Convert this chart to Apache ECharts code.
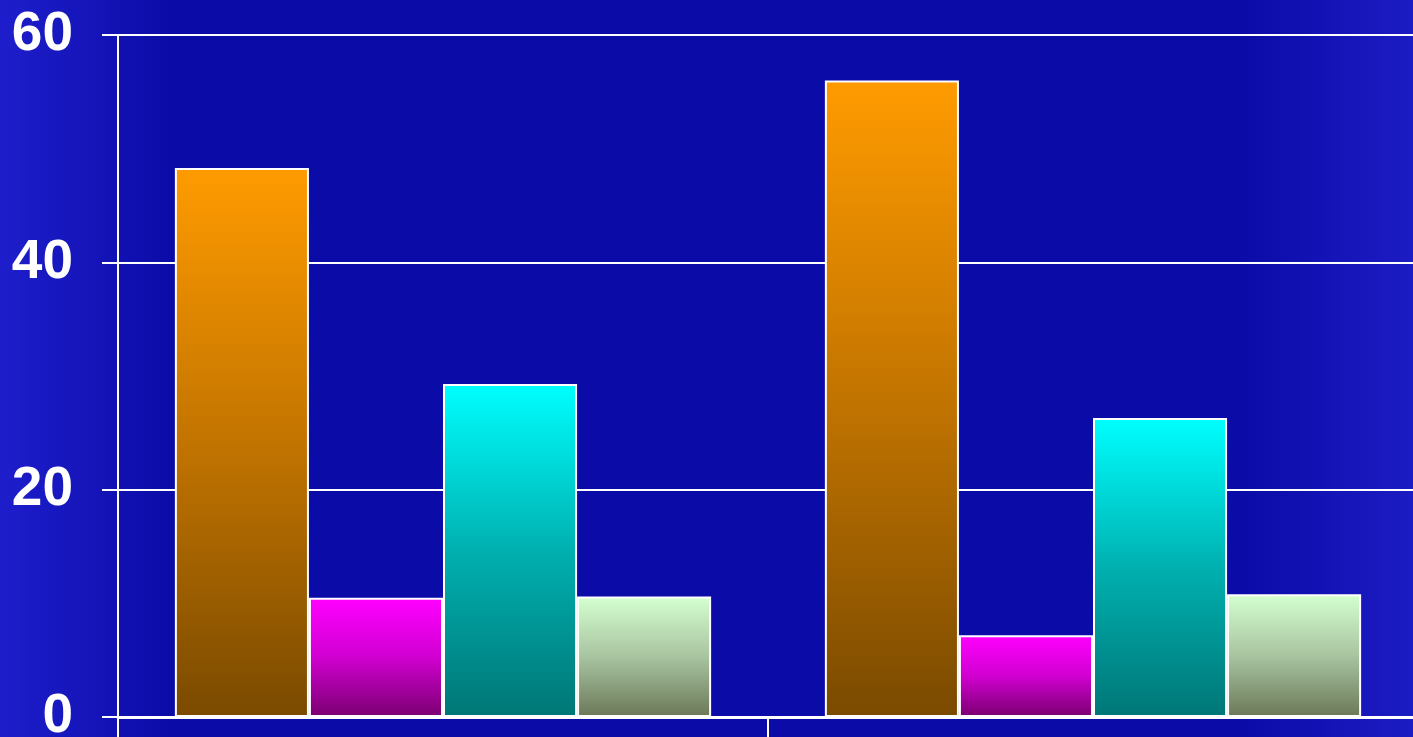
<!DOCTYPE html>
<html>
<head>
<meta charset="utf-8">
<script src="https://cdn.jsdelivr.net/npm/echarts@6/dist/echarts.min.js"></script>
<style>
html,body{margin:0;padding:0;width:1413px;height:737px;overflow:hidden;background:#0c0cac;}
#chart{width:1413px;height:737px;}
</style>
</head>
<body>
<div id="chart"></div>
<script>
const categories = ['Group 1', 'Group 2'];
const yTicks = [0, 20, 40, 60];
const seriesNames = ['Series A', 'Series B', 'Series C', 'Series D'];
const seriesA = [48.3, 56.0];
const seriesB = [10.5, 7.2];
const seriesC = [29.3, 26.3];
const seriesD = [10.6, 10.8];

const gradients = [
  ['#ff9b00', '#c27400', '#7a4a00'],
  ['#ff00ff', '#d000d0', '#7a0070'],
  ['#00ffff', '#00b0b0', '#007676'],
  ['#d4ffd0', '#a8c4a0', '#6b7858']
];
function grad(c) {
  return {
    type: 'linear', x: 0, y: 0, x2: 0, y2: 1,
    colorStops: [
      { offset: 0, color: c[0] },
      { offset: 0.5, color: c[1] },
      { offset: 1, color: c[2] }
    ]
  };
}
const values = [seriesA, seriesB, seriesC, seriesD];

const chart = echarts.init(document.getElementById('chart'), null, { renderer: 'canvas' });
chart.setOption({
  animation: false,
  backgroundColor: {
    type: 'linear', x: 0, y: 0, x2: 1, y2: 0,
    colorStops: [
      { offset: 0, color: '#1e1ecc' },
      { offset: 0.08, color: '#1212b4' },
      { offset: 0.12, color: '#0b0ba8' },
      { offset: 0.88, color: '#0b0ba8' },
      { offset: 1, color: '#1c1cc4' }
    ]
  },
  grid: { left: 118, right: -5, top: 35, bottom: 20, containLabel: false, outerBoundsMode: 'none' },
  xAxis: {
    type: 'category',
    data: categories,
    axisLine: { show: true, lineStyle: { color: '#ffffff', width: 3 } },
    axisTick: { show: true, length: 30, lineStyle: { color: '#ffffff', width: 2 } },
    axisLabel: { show: false },
    splitLine: { show: false }
  },
  yAxis: {
    type: 'value',
    min: yTicks[0],
    max: yTicks[yTicks.length - 1],
    interval: yTicks[1] - yTicks[0],
    axisLine: { show: true, lineStyle: { color: '#ffffff', width: 2 } },
    axisTick: { show: true, inside: false, length: 16, lineStyle: { color: '#ffffff', width: 2 } },
    axisLabel: {
      color: '#ffffff', fontWeight: 'bold', fontSize: 55,
      fontFamily: 'Liberation Sans, Arial, sans-serif', margin: 45
    },
    splitLine: { show: true, lineStyle: { color: '#ffffff', width: 2 } }
  },
  series: values.map((v, i) => ({
    name: seriesNames[i],
    type: 'bar',
    data: v,
    barGap: '0%',
    barCategoryGap: '17.5%',
    itemStyle: { color: grad(gradients[i]), borderColor: '#ffffff', borderWidth: 2 }
  }))
});
</script>
</body>
</html>
